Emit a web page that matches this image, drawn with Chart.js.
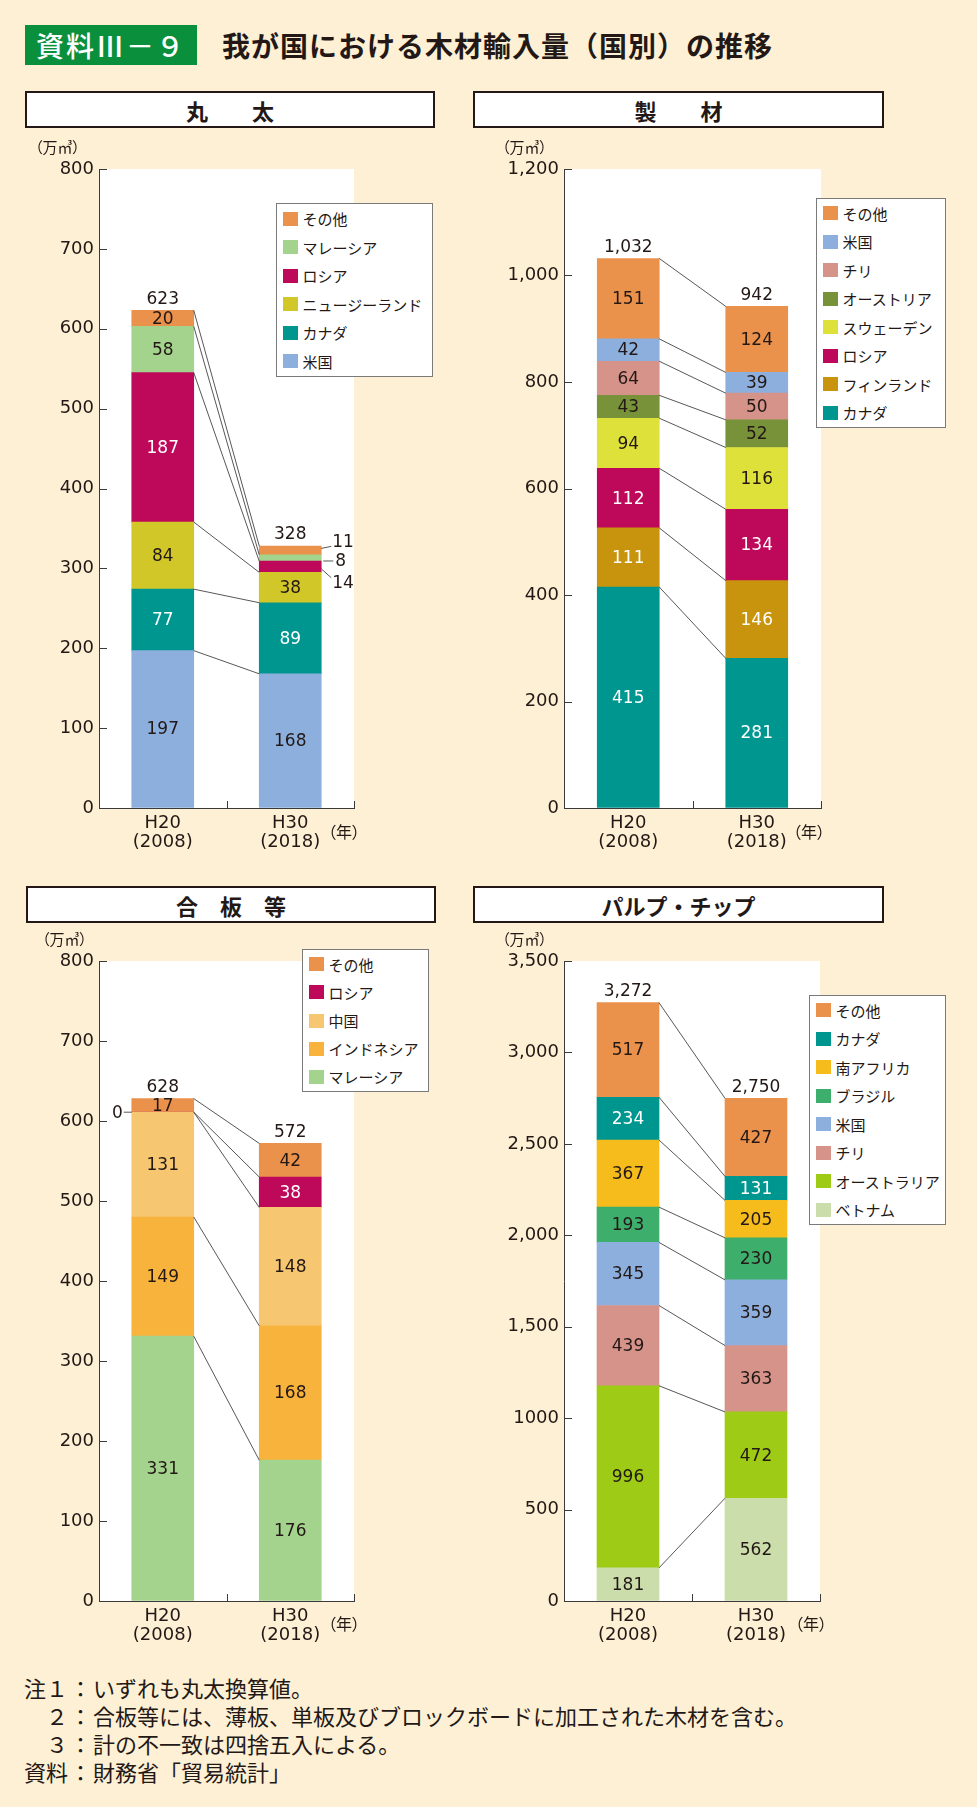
<!DOCTYPE html>
<html lang="ja">
<head>
<meta charset="utf-8">
<script src="https://cdn.jsdelivr.net/npm/chart.js@4.4.1/dist/chart.umd.min.js"></script>
<style>
html,body{margin:0;padding:0;}
body{width:977px;height:1807px;background:#FDF0D5;position:relative;overflow:hidden;font-family:"Noto Sans CJK JP",sans-serif;color:#231815;}
.abs{position:absolute;white-space:nowrap;}
#badge{left:25px;top:25px;width:172px;height:40px;background:#0A8F3D;color:#fff;font-size:28px;font-weight:500;display:flex;align-items:center;justify-content:center;letter-spacing:2px;}
#title{left:222px;top:25px;height:40px;line-height:40px;font-size:28px;font-weight:700;letter-spacing:1px;}
.ptitle{border:2px solid #231815;background:#fff;box-sizing:border-box;display:flex;align-items:center;justify-content:center;font-size:22px;font-weight:700;height:37px;}
.unit{font-size:15px;line-height:20px;font-feature-settings:"palt";}
.nen{font-size:16px;line-height:20px;font-feature-settings:"palt";}
.legend{background:#fff;border:1.5px solid #7a7a7a;box-sizing:border-box;display:flex;flex-direction:column;justify-content:center;}
.lrow{height:28.5px;display:flex;align-items:center;font-size:15px;white-space:nowrap;}
.sw{width:15px;height:14px;margin-left:5.5px;margin-right:5px;flex:none;}
canvas{position:absolute;}
#notes{left:24px;top:1673px;font-size:22px;line-height:28px;}
#notes .lab{display:inline-block;width:44px;text-align:right;}
#notes .col{display:inline-block;width:25px;text-align:center;}
</style>
</head>
<body>
<div id="badge" class="abs">資料Ⅲ－９</div>
<div id="title" class="abs">我が国における木材輸入量（国別）の推移</div>

<div class="abs ptitle" style="left:25px;top:91px;width:410px;">丸　　太</div>
<div class="abs ptitle" style="left:473px;top:91px;width:411px;">製　　材</div>
<div class="abs ptitle" style="left:26px;top:886px;width:410px;">合　板　等</div>
<div class="abs ptitle" style="left:473px;top:886px;width:411px;">パルプ・チップ</div>

<div id="notes" class="abs">
<div><span class="lab">注１</span><span class="col">：</span>いずれも丸太換算値。</div>
<div><span class="lab">２</span><span class="col">：</span>合板等には、薄板、単板及びブロックボードに加工された木材を含む。</div>
<div><span class="lab">３</span><span class="col">：</span>計の不一致は四捨五入による。</div>
<div><span class="lab">資料</span><span class="col">：</span>財務省「貿易統計」</div>
</div>

<script>
// ---------- DATA ----------
const yearLabels = [["H20", "(2008)"], ["H30", "(2018)"]];
const unitLabel = "（万㎥）";
const yearUnit = "（年）";

// 丸太 (bottom -> top)
const maruSeries = ["米国", "カナダ", "ニュージーランド", "ロシア", "マレーシア", "その他"];
const maruH20 = [197, 77, 84, 187, 58, 20];
const maruH30 = [168, 89, 38, 14, 8, 11];
const maruTotal = [623, 328];
const maruTicks = ["0", "100", "200", "300", "400", "500", "600", "700", "800"];

// 製材
const seiSeries = ["カナダ", "フィンランド", "ロシア", "スウェーデン", "オーストリア", "チリ", "米国", "その他"];
const seiH20 = [415, 111, 112, 94, 43, 64, 42, 151];
const seiH30 = [281, 146, 134, 116, 52, 50, 39, 124];
const seiTotal = [1032, 942];
const seiTicks = ["0", "200", "400", "600", "800", "1,000", "1,200"];

// 合板等
const gouSeries = ["マレーシア", "インドネシア", "中国", "ロシア", "その他"];
const gouH20 = [331, 149, 131, 0, 17];
const gouH30 = [176, 168, 148, 38, 42];
const gouTotal = [628, 572];
const gouTicks = ["0", "100", "200", "300", "400", "500", "600", "700", "800"];

// パルプ・チップ
const pulpSeries = ["ベトナム", "オーストラリア", "チリ", "米国", "ブラジル", "南アフリカ", "カナダ", "その他"];
const pulpH20 = [181, 996, 439, 345, 193, 367, 234, 517];
const pulpH30 = [562, 472, 363, 359, 230, 205, 131, 427];
const pulpTotal = [3272, 2750];
const pulpTicks = ["0", "500", "1000", "1,500", "2,000", "2,500", "3,000", "3,500"];

// ---------- STYLE ----------
const TXT = "#231815";
const AXIS = "#3a3a3a";
const LINE = "#444444";
const NUMFONT = "'DejaVu Sans', sans-serif";
const COLORS = {
  "その他": "#EA914B", "米国": "#8CAFDD", "カナダ": "#009690", "ニュージーランド": "#D1C729",
  "ロシア": "#BE0859", "マレーシア": "#A3D38D", "フィンランド": "#C9940D", "スウェーデン": "#DDE13A",
  "オーストリア": "#779239", "チリ": "#D5938A", "インドネシア": "#F8B33D", "中国": "#F6C670",
  "ベトナム": "#CBDDAB", "オーストラリア": "#9ECB16", "ブラジル": "#3EAE6D", "南アフリカ": "#F5BC1C"
};
Chart.defaults.font.family = NUMFONT;

const panels = [
  { id: "maru", left: 0, top: 130, w: 470, h: 720, area: { l: 99, r: 354, t: 169, b: 808 },
    series: maruSeries, h20: maruH20, h30: maruH30, totals: maruTotal, ticks: maruTicks, max: 800, step: 100,
    white: ["カナダ", "ロシア"],
    outside: [{ s: "その他", i: 1, dx: 11, dy: -9 }, { s: "マレーシア", i: 1, dx: 14, dy: 3 }, { s: "ロシア", i: 1, dx: 11, dy: 16 }],
    legend: { left: 276, top: 203, w: 157, h: 174 }, unit: { left: 35, top: 137 }, nen: { left: 328, top: 821 } },
  { id: "sei", left: 470, top: 130, w: 507, h: 720, area: { l: 564, r: 821, t: 169, b: 808 },
    series: seiSeries, h20: seiH20, h30: seiH30, totals: seiTotal, ticks: seiTicks, max: 1200, step: 200,
    white: ["カナダ", "フィンランド", "ロシア"], outside: [],
    legend: { left: 816, top: 198, w: 130, h: 230 }, unit: { left: 502, top: 137 }, nen: { left: 793, top: 821 } },
  { id: "gou", left: 0, top: 880, w: 470, h: 770, area: { l: 99, r: 354, t: 961, b: 1601 },
    series: gouSeries, h20: gouH20, h30: gouH30, totals: gouTotal, ticks: gouTicks, max: 800, step: 100,
    white: ["ロシア"], outside: [{ s: "ロシア", i: 0, dx: -9, dy: 0, left: true }],
    legend: { left: 302, top: 949, w: 127, h: 143 }, unit: { left: 42, top: 929 }, nen: { left: 328, top: 1613 } },
  { id: "pulp", left: 470, top: 880, w: 507, h: 770, area: { l: 564, r: 820, t: 961, b: 1601 },
    series: pulpSeries, h20: pulpH20, h30: pulpH30, totals: pulpTotal, ticks: pulpTicks, max: 3500, step: 500,
    white: ["カナダ"], outside: [],
    legend: { left: 809, top: 995, w: 137, h: 230 }, unit: { left: 502, top: 929 }, nen: { left: 795, top: 1613 } }
];

function decor(p) {
  return {
    id: "decor_" + p.id,
    beforeDraw(chart) {
      const { ctx, chartArea: a } = chart;
      ctx.save(); ctx.fillStyle = "#fff";
      ctx.fillRect(a.left, a.top, a.right - a.left, a.bottom - a.top);
      ctx.restore();
    },
    afterDatasetsDraw(chart) {
      const ctx = chart.ctx;
      const n = chart.data.datasets.length;
      ctx.save();
      // connector lines between segment tops
      ctx.strokeStyle = LINE; ctx.lineWidth = 0.9;
      for (let i = 0; i < n; i++) {
        const m = chart.getDatasetMeta(i);
        const a = m.data[0], b = m.data[1];
        ctx.beginPath();
        ctx.moveTo(a.x + a.width / 2, a.y);
        ctx.lineTo(b.x - b.width / 2, b.y);
        ctx.stroke();
      }
      // value labels
      ctx.font = "17px " + NUMFONT;
      ctx.textBaseline = "middle";
      for (let i = 0; i < n; i++) {
        const m = chart.getDatasetMeta(i);
        const name = p.series[i];
        for (let j = 0; j < 2; j++) {
          const v = chart.data.datasets[i].data[j];
          const el = m.data[j];
          const yc = (el.y + el.base) / 2;
          const o = p.outside.find(q => q.s === name && q.i === j);
          if (o) {
            ctx.fillStyle = TXT; ctx.strokeStyle = LINE; ctx.lineWidth = 0.9;
            if (o.left) {
              const xl = el.x - el.width / 2;
              ctx.beginPath(); ctx.moveTo(xl, yc); ctx.lineTo(xl + o.dx + 1, yc); ctx.stroke();
              ctx.textAlign = "right";
              ctx.fillText(String(v), xl + o.dx, yc + o.dy + 1);
            } else {
              const xr = el.x + el.width / 2;
              const s = Math.abs(o.dy) < 5 ? 0 : Math.sign(o.dy);
              ctx.beginPath();
              if (s === 0) { ctx.moveTo(xr + 2, yc + o.dy); ctx.lineTo(xr + o.dx - 2, yc + o.dy); }
              else { ctx.moveTo(xr, yc + s * 2); ctx.lineTo(xr + o.dx - 1, yc + o.dy - s * 5); }
              ctx.stroke();
              ctx.textAlign = "left";
              ctx.fillText(String(v), xr + o.dx, yc + o.dy + 1);
            }
          } else if (v > 0) {
            ctx.fillStyle = p.white.includes(name) ? "#ffffff" : TXT;
            ctx.textAlign = "center";
            ctx.fillText(String(v), el.x, yc + 1);
          }
        }
      }
      // totals
      const topMeta = chart.getDatasetMeta(n - 1);
      ctx.fillStyle = TXT; ctx.textAlign = "center";
      for (let j = 0; j < 2; j++) {
        const el = topMeta.data[j];
        ctx.fillText(p.totals[j].toLocaleString("en-US"), el.x, el.y - 11);
      }
      ctx.restore();
    },
    afterDraw(chart) {
      const { ctx, chartArea: a, scales } = chart;
      ctx.save();
      ctx.strokeStyle = AXIS; ctx.lineWidth = 1;
      scales.y.ticks.forEach(t => {
        const y = Math.round(scales.y.getPixelForValue(t.value)) + 0.5;
        ctx.beginPath(); ctx.moveTo(a.left, y); ctx.lineTo(a.left + 8, y); ctx.stroke();
      });
      const mid = (scales.x.getPixelForValue(0) + scales.x.getPixelForValue(1)) / 2;
      [mid, a.right].forEach(x => {
        const xx = Math.round(x) + 0.5;
        ctx.beginPath(); ctx.moveTo(xx, a.bottom); ctx.lineTo(xx, a.bottom - 7); ctx.stroke();
      });
      ctx.restore();
    }
  };
}

function makePanel(p) {
  const cv = document.createElement("canvas");
  cv.width = p.w; cv.height = p.h;
  cv.style.left = p.left + "px"; cv.style.top = p.top + "px";
  cv.style.width = p.w + "px"; cv.style.height = p.h + "px";
  document.body.appendChild(cv);
  const aL = p.area.l - p.left, aR = p.area.r - p.left, aT = p.area.t - p.top, aB = p.area.b - p.top;
  const datasets = p.series.map((name, k) => ({
    label: name, data: [p.h20[k], p.h30[k]], backgroundColor: COLORS[name],
    borderWidth: 0, barThickness: 62
  }));
  new Chart(cv, {
    type: "bar",
    data: { labels: yearLabels, datasets },
    options: {
      responsive: false, animation: false, devicePixelRatio: 1,
      layout: { padding: { left: 0, top: aT, right: p.w - aR, bottom: 0 } },
      plugins: { legend: { display: false }, tooltip: { enabled: false } },
      scales: {
        x: {
          stacked: true,
          grid: { display: true, drawOnChartArea: false, drawTicks: false },
          border: { display: true, color: AXIS, width: 1 },
          ticks: { color: TXT, font: { family: NUMFONT, size: 18, lineHeight: 1.1 }, padding: 5, maxRotation: 0, autoSkip: false },
          afterFit(s) { s.height = p.h - aB; }
        },
        y: {
          stacked: true, min: 0, max: p.max,
          grid: { display: true, drawOnChartArea: false, drawTicks: false },
          border: { display: true, color: AXIS, width: 1 },
          ticks: { stepSize: p.step, color: TXT, font: { family: NUMFONT, size: 18 }, padding: 5, autoSkip: false,
                   callback: (v, i) => p.ticks[i] },
          afterFit(s) { s.width = aL; }
        }
      }
    },
    plugins: [decor(p)]
  });

  // HTML legend (top -> bottom = reverse stack order)
  const lg = document.createElement("div");
  lg.className = "abs legend";
  Object.assign(lg.style, { left: p.legend.left + "px", top: p.legend.top + "px", width: p.legend.w + "px", height: p.legend.h + "px" });
  p.series.slice().reverse().forEach(name => {
    const row = document.createElement("div"); row.className = "lrow";
    const sw = document.createElement("span"); sw.className = "sw"; sw.style.background = COLORS[name];
    const tx = document.createElement("span"); tx.textContent = name;
    row.appendChild(sw); row.appendChild(tx); lg.appendChild(row);
  });
  document.body.appendChild(lg);

  const u = document.createElement("div");
  u.className = "abs unit"; u.textContent = unitLabel;
  u.style.left = p.unit.left + "px"; u.style.top = p.unit.top + "px";
  document.body.appendChild(u);

  const ny = document.createElement("div");
  ny.className = "abs nen"; ny.textContent = yearUnit;
  ny.style.left = p.nen.left + "px"; ny.style.top = p.nen.top + "px";
  document.body.appendChild(ny);
}

panels.forEach(makePanel);
</script>
</body>
</html>
